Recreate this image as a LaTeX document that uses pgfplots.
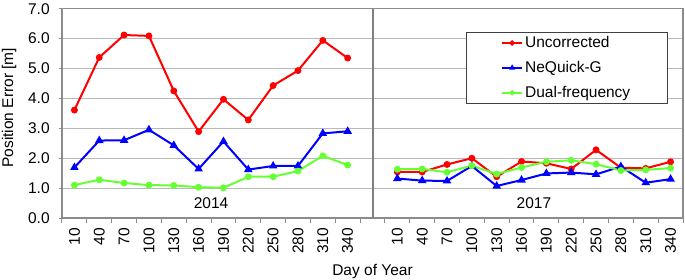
\documentclass[border=0pt]{standalone}
\usepackage{pgfplots}
\pgfplotsset{compat=1.18}
\usepackage{fontspec}
\setmainfont{Liberation Sans}
\definecolor{dgreen}{RGB}{102,255,51}
\definecolor{gridc}{RGB}{185,185,185}
\definecolor{axc}{RGB}{140,140,140}
\definecolor{sepc}{RGB}{128,128,128}

\pgfplotstableread{
x unc neq dual
0  3.61 1.69 1.10
1  5.37 2.59 1.28
2  6.12 2.60 1.17
3  6.09 2.95 1.10
4  4.25 2.43 1.09
5  2.89 1.64 1.03
6  3.97 2.56 1.01
7  3.28 1.62 1.38
8  4.43 1.74 1.38
9  4.93 1.74 1.57
10 5.94 2.83 2.08
11 5.35 2.90 1.77
}\tabA
\pgfplotstableread{
x unc neq dual
13 1.54 1.32 1.63
14 1.54 1.25 1.64
15 1.79 1.24 1.53
16 2.00 1.74 1.75
17 1.38 1.07 1.47
18 1.89 1.27 1.69
19 1.83 1.49 1.88
20 1.64 1.52 1.93
21 2.28 1.46 1.80
22 1.68 1.72 1.59
23 1.66 1.18 1.61
24 1.88 1.30 1.67
}\tabB

\begin{document}
\fontsize{15.5}{18}\selectfont
\begin{tikzpicture}
\begin{axis}[
  scale only axis, width=621pt, height=209.3pt,
  xmin=-0.5, xmax=24.5, ymin=0, ymax=7,
  font=\fontsize{15.5}{18}\selectfont,
  ytick={0,1,...,7},
  yticklabel style={xshift=-4pt, /pgf/number format/.cd, fixed, fixed zerofill, precision=1, assume math mode=true},
  xtick={0,...,11,13,14,...,24},
  xticklabels={10,40,70,100,130,160,190,220,250,280,310,340,10,40,70,100,130,160,190,220,250,280,310,340},
  xticklabel style={rotate=90, anchor=east, xshift=-1.5pt},
  major x tick style={draw=none},
  minor xtick={-0.5,0.5,...,24.5},
  minor tick length=4.5pt,
  major tick length=3pt,
  tick align=outside,
  xtick pos=bottom, ytick pos=left,
  tick style={axc, line width=1pt},
  axis line style={axc, line width=1.2pt},
  ymajorgrids, grid style={gridc, line width=1pt},
  ylabel={Position Error [m]},
  ylabel style={at={(axis description cs:-0.0853,0.527)}, anchor=center},
  xlabel={Day of Year},
  xlabel style={at={(axis description cs:0.5,0)}, anchor=base, yshift=-57pt},
  legend style={at={(0.65,0.890)}, anchor=north west, draw=black!75, line width=1pt,
    inner xsep=35pt, inner ysep=2pt, row sep=7.3pt, font=\fontsize{15.5}{18}\selectfont},
  legend image code/.code={%
    \draw[mark repeat=2, mark phase=2, mark size=1.6pt] plot coordinates {(0pt,0pt) (10pt,0pt) (20pt,0pt)};},
  legend cell align=left,
  clip=false,
]
\draw[sepc, line width=2pt] (axis cs:12,0) -- (axis cs:12,7);
\addplot[red, line width=2pt, mark=*, mark size=2.4pt] table[x=x,y=unc]{\tabA};
\addlegendentry{Uncorrected}
\addplot[blue, line width=2pt, mark=triangle*, mark size=3pt] table[x=x,y=neq]{\tabA};
\addlegendentry{NeQuick-G}
\addplot[dgreen, line width=2pt, mark=*, mark size=2.4pt] table[x=x,y=dual]{\tabA};
\addlegendentry{Dual-frequency}
\addplot[red, line width=2pt, mark=*, mark size=2.4pt, forget plot] table[x=x,y=unc]{\tabB};
\addplot[blue, line width=2pt, mark=triangle*, mark size=3pt, forget plot] table[x=x,y=neq]{\tabB};
\addplot[dgreen, line width=2pt, mark=*, mark size=2.4pt, forget plot] table[x=x,y=dual]{\tabB};
\node at (axis cs:5.5,0.49) {2014};
\node at (axis cs:18.5,0.49) {2017};
\end{axis}
\pgfresetboundingbox
\path (current axis.south west) ++(-62pt,-61pt) rectangle ++(685pt,279pt);
\end{tikzpicture}
\end{document}
